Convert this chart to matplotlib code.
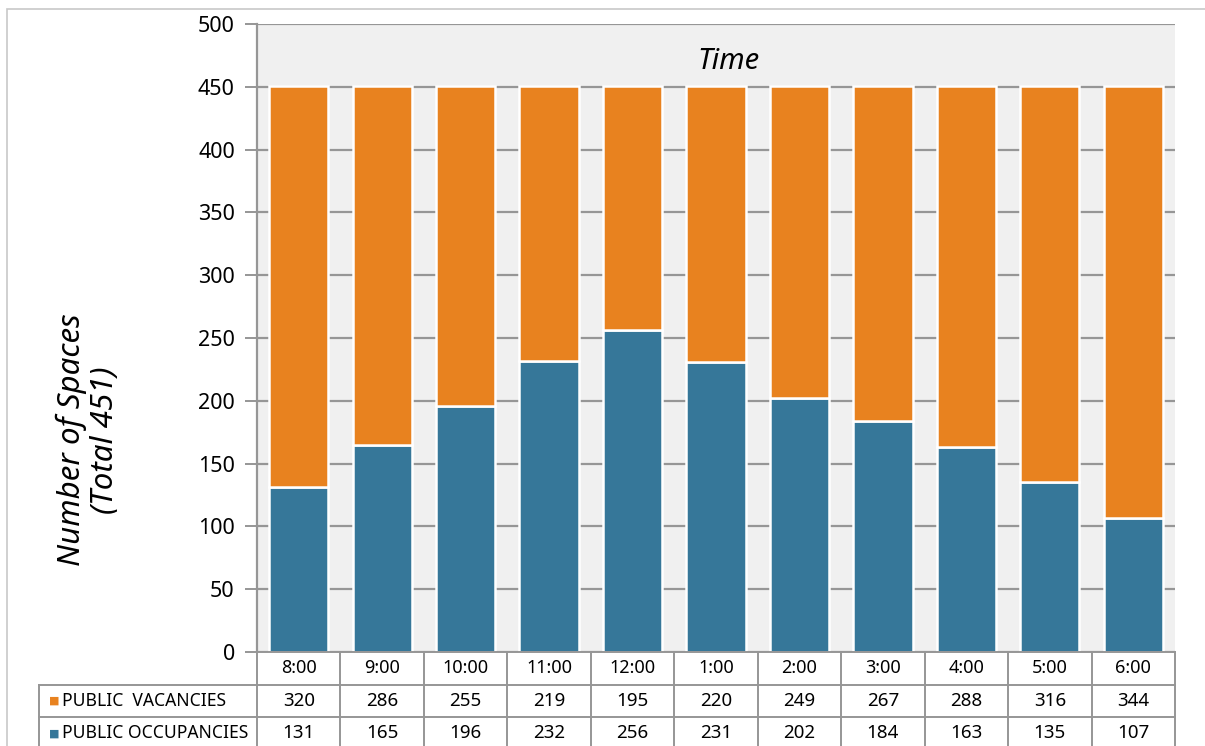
import numpy as np
import matplotlib.pyplot as plt
from matplotlib.patches import Rectangle

plt.rcParams['font.family'] = ['Noto Sans', 'DejaVu Sans']

times = ['8:00', '9:00', '10:00', '11:00', '12:00', '1:00', '2:00', '3:00', '4:00', '5:00', '6:00']
vacancies = [320, 286, 255, 219, 195, 220, 249, 267, 288, 316, 344]
occupancies = [131, 165, 196, 232, 256, 231, 202, 184, 163, 135, 107]
series_names = ['PUBLIC  VACANCIES', 'PUBLIC OCCUPANCIES']

ORANGE = '#e8821f'
BLUE = '#367799'
GRID = '#969696'
BG = '#f0f0f0'

W, H = 1205, 746
fig = plt.figure(figsize=(W / 100, H / 100), dpi=100)

# outer chart frame
fig.patches.append(Rectangle((7 / W, -0.1), 1.2, 1 - 9 / H + 0.1, transform=fig.transFigure,
                             fill=False, edgecolor='#c8c8c8', lw=1.2))

ax_l, ax_r, ax_t, ax_b = 257, 1175, 24, 652
ax = fig.add_axes([ax_l / W, 1 - ax_b / H, (ax_r - ax_l) / W, (ax_b - ax_t) / H])
ax.set_facecolor(BG)

x = np.arange(len(times))
ax.bar(x, occupancies, width=0.71, color=BLUE, edgecolor='white', linewidth=1.8, zorder=3)
ax.bar(x, vacancies, bottom=occupancies, width=0.71, color=ORANGE, edgecolor='white',
       linewidth=1.8, zorder=3)

ax.set_xlim(-0.5, len(times) - 0.5)
ax.set_ylim(0, 500)
ax.set_yticks(np.arange(0, 501, 50))
ax.yaxis.grid(True, color=GRID, lw=1.6, zorder=0)
ax.set_axisbelow(True)
ax.tick_params(axis='y', length=9, width=1.4, color=GRID, labelsize=15.5, pad=7)
ax.tick_params(axis='x', bottom=False, labelbottom=False)
for s in ['top', 'right', 'bottom']:
    ax.spines[s].set_visible(False)
ax.spines['left'].set_color(GRID)
ax.spines['left'].set_linewidth(1.6)

ax.text(0.514, 0.94, 'Time', transform=ax.transAxes, ha='center', va='center',
        fontsize=21, style='italic', zorder=5)
fig.text(88 / W, 1 - 440 / H, 'Number of Spaces\n(Total 451)', rotation=90, ha='center',
         va='center', fontsize=22.5, style='italic', linespacing=1.15)

# data table under the bars
row_h = 32.5
tax = fig.add_axes([ax_l / W, 1 - (ax_b + 3 * row_h) / H, (ax_r - ax_l) / W, 3 * row_h / H])
tax.set_xlim(-0.5, len(times) - 0.5)
tax.set_ylim(3, 0)
tax.axis('off')

lab_x = (39 - ax_l) / (ax_r - ax_l)
lkw = dict(color=GRID, lw=1.4, clip_on=False)
for i in range(len(times) + 1):
    tax.plot([i - 0.5, i - 0.5], [0, 3], **lkw)
for r in range(4):
    tax.plot([-0.5, len(times) - 0.5], [r, r], **lkw)
tr = tax.get_yaxis_transform()
for r in (1, 2, 3):
    tax.plot([lab_x, 0], [r, r], transform=tr, **lkw)
tax.plot([lab_x, lab_x], [1, 3], transform=tr, **lkw)

for i, t in enumerate(times):
    tax.text(i, 0.5, t, ha='center', va='center', fontsize=13)
    tax.text(i, 1.5, str(vacancies[i]), ha='center', va='center', fontsize=13.5)
    tax.text(i, 2.5, str(occupancies[i]), ha='center', va='center', fontsize=13.5)

for r, (name, col) in enumerate(zip(series_names, [ORANGE, BLUE])):
    tax.text(lab_x + 0.011, r + 1.5, '\u25a0', color=col, ha='left', va='center',
             fontsize=8, transform=tr, family='DejaVu Sans')
    tax.text(lab_x + 0.025, r + 1.5, name, ha='left', va='center', fontsize=12.6,
             transform=tr)

fig.savefig('out.png', dpi=100)
